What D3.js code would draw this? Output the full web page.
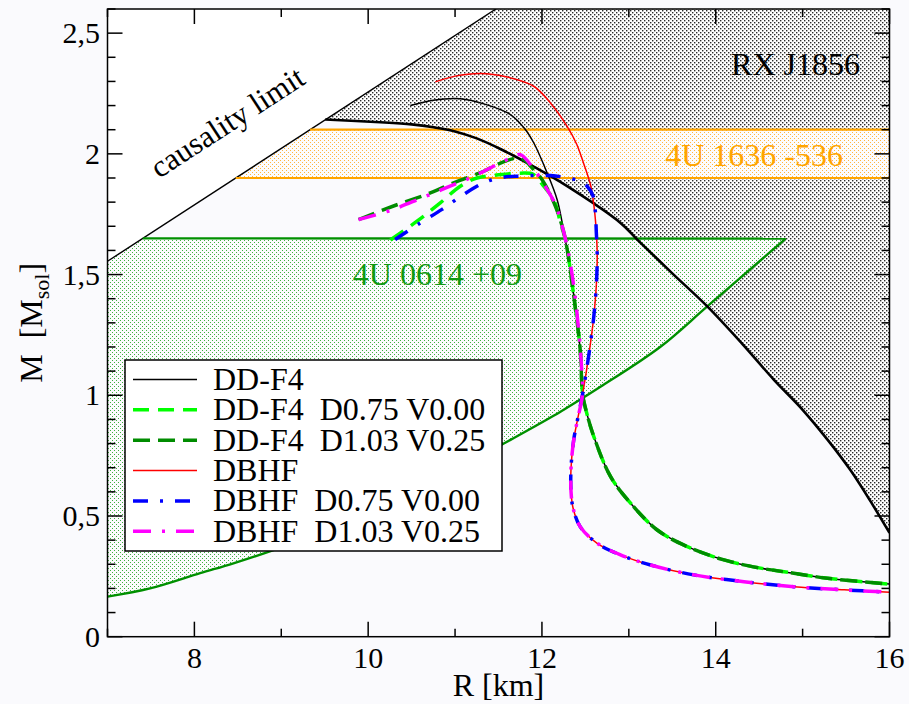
<!DOCTYPE html>
<html><head><meta charset="utf-8">
<script src="https://cdn.jsdelivr.net/npm/d3@7"></script>
<style>
html,body{margin:0;padding:0;background:#fafafd;}
svg{display:block;font-family:"Liberation Serif","Times New Roman",serif;}
text{white-space:pre;}
</style></head><body>
<svg id="c" width="909" height="704"></svg>
<script>
// ---------- data ----------
const xTicks = [8, 10, 12, 14, 16];
const xTickLabels = ["8", "10", "12", "14", "16"];
const yTicks = [0, 0.5, 1, 1.5, 2, 2.5];
const yTickLabels = ["0", "0,5", "1", "1,5", "2", "2,5"];

const causalityLine = [[7, 1.555], [11.47, 2.6]];
const band1636 = [1.9, 2.1];            // 4U 1636-536 mass band
const top0614 = 1.65;                   // 4U 0614+09 upper mass
const lower0614 = [[7, 0.166], [7.49, 0.2], [8.066, 0.263], [8.449, 0.304], [8.91, 0.359], [9.793, 0.476], [10.715, 0.63],
  [11.556, 0.799], [12.213, 0.932], [12.673, 1.035], [13.364, 1.201], [13.903, 1.368], [14.805, 1.649]];
const rxJ1856 = [[9.506, 2.142], [10.139, 2.131], [10.5, 2.122], [10.753, 2.11], [11.0, 2.093], [11.25, 2.064], [11.522, 2.02],
  [11.905, 1.947], [12.29, 1.866], [12.904, 1.714], [13.097, 1.645], [13.5, 1.505], [13.903, 1.368], [14.3, 1.215],
  [14.67, 1.064], [15.0, 0.94], [15.3, 0.81], [15.554, 0.688], [15.8, 0.55], [16.0, 0.43]];

const ddf4 = [[10.485, 2.2], [10.75, 2.222], [11.06, 2.228], [11.35, 2.205], [11.637, 2.163], [11.8, 2.105], [11.905, 2.046],
  [12.06, 1.921], [12.175, 1.81], [12.233, 1.714], [12.32, 1.534], [12.385, 1.36], [12.44, 1.19], [12.47, 1.0], [12.52, 0.92],
  [12.597, 0.829], [12.79, 0.663], [13.02, 0.553], [13.327, 0.442], [13.673, 0.373], [14.095, 0.318], [14.517, 0.284],
  [14.9, 0.263], [15.286, 0.242], [16.0, 0.218]];
const ddf4D075 = [[10.255, 1.643], [10.562, 1.721], [10.83, 1.797], [11.06, 1.866], [11.253, 1.9], [11.5, 1.913], [11.75, 1.92],
  [11.9, 1.915], [12.02, 1.866], [12.136, 1.81], [12.213, 1.714], [12.29, 1.617], [12.32, 1.534], [12.385, 1.36], [12.44, 1.19],
  [12.47, 1.0], [12.52, 0.92], [12.597, 0.829], [12.79, 0.663], [13.02, 0.553], [13.327, 0.442], [13.673, 0.373],
  [14.095, 0.318], [14.517, 0.284], [14.9, 0.263], [15.286, 0.242], [16.0, 0.218]];
const ddf4D103 = [[9.889, 1.728], [10.3, 1.785], [10.715, 1.838], [10.984, 1.88], [11.33, 1.928], [11.484, 1.956],
  [11.714, 1.983], [11.8, 1.975], [11.867, 1.949], [12.002, 1.893], [12.155, 1.783], [12.233, 1.7], [12.27, 1.645],
  [12.32, 1.534], [12.385, 1.36], [12.44, 1.19], [12.47, 1.0], [12.52, 0.92], [12.597, 0.829], [12.79, 0.663], [13.02, 0.553],
  [13.327, 0.442], [13.673, 0.373], [14.095, 0.318], [14.517, 0.284], [14.9, 0.263], [15.286, 0.242], [16.0, 0.218]];
const dbhf = [[10.773, 2.298], [11.0, 2.322], [11.291, 2.333], [11.6, 2.318], [11.905, 2.28], [12.1, 2.21], [12.29, 2.114],
  [12.4, 2.04], [12.48, 1.96], [12.56, 1.87], [12.6, 1.78], [12.625, 1.68], [12.636, 1.58], [12.625, 1.45], [12.597, 1.327],
  [12.56, 1.22], [12.52, 1.12], [12.465, 1.0], [12.41, 0.9], [12.366, 0.816], [12.335, 0.7], [12.335, 0.6], [12.36, 0.53],
  [12.44, 0.456], [12.636, 0.387], [12.904, 0.339], [13.25, 0.297], [13.749, 0.256], [14.325, 0.228], [14.9, 0.207],
  [15.477, 0.194], [16.0, 0.184]];
const dbhfD075 = [[10.31, 1.645], [10.6, 1.714], [10.85, 1.77], [11.05, 1.82], [11.3, 1.875], [11.5, 1.9], [11.75, 1.908],
  [12.1, 1.91], [12.3, 1.9], [12.44, 1.886], [12.52, 1.866], [12.59, 1.824], [12.615, 1.76], [12.625, 1.68], [12.636, 1.58],
  [12.625, 1.45], [12.597, 1.327], [12.56, 1.22], [12.52, 1.12], [12.465, 1.0], [12.41, 0.9], [12.366, 0.816], [12.335, 0.7],
  [12.335, 0.6], [12.36, 0.53], [12.44, 0.456], [12.636, 0.387], [12.904, 0.339], [13.25, 0.297], [13.749, 0.256],
  [14.325, 0.228], [14.9, 0.207], [15.477, 0.194], [16.0, 0.184]];
const dbhfD103 = [[9.889, 1.728], [10.25, 1.765], [10.6, 1.815], [10.9, 1.86], [11.2, 1.905], [11.484, 1.956], [11.65, 1.985],
  [11.752, 1.997], [11.9, 1.94], [12.06, 1.852], [12.155, 1.79], [12.233, 1.7], [12.31, 1.58], [12.37, 1.44], [12.42, 1.28],
  [12.455, 1.12], [12.465, 1.0], [12.41, 0.9], [12.366, 0.816], [12.335, 0.7], [12.335, 0.6], [12.36, 0.53], [12.44, 0.456],
  [12.636, 0.387], [12.904, 0.339], [13.25, 0.297], [13.749, 0.256], [14.325, 0.228], [14.9, 0.207], [15.477, 0.194],
  [16.0, 0.184]];

const seriesNames = ["DD-F4", "DD-F4  D0.75 V0.00", "DD-F4  D1.03 V0.25", "DBHF", "DBHF  D0.75 V0.00", "DBHF  D1.03 V0.25"];
const seriesData = [ddf4, ddf4D075, ddf4D103, dbhf, dbhfD075, dbhfD103];
const seriesColors = ["#000000", "#00ff00", "#008c00", "#ff0000", "#0000ff", "#ff00ff"];
const seriesWidths = [1.5, 3.5, 3.5, 1.5, 3.5, 3.5];
const seriesDash = [null, "16,9", "17,8", null, "15,12,3,12", "18,11,3,11"];
const drawOrder = [0, 1, 2, 3, 4, 5];

// ---------- drawing ----------
const svg = d3.select("#c");
const x = d3.scaleLinear().domain([7, 16]).range([107.5, 889.5]);
const y = d3.scaleLinear().domain([0, 2.6]).range([636.7, 9]);
const defs = svg.append("defs");
defs.append("clipPath").attr("id", "clip").append("rect")
  .attr("x", x(7)).attr("y", y(2.6)).attr("width", x(16) - x(7)).attr("height", y(0) - y(2.6));

function dots(id, color, bg, size) {
  const p = defs.append("pattern").attr("id", id).attr("patternUnits", "userSpaceOnUse")
    .attr("width", 4).attr("height", 4);
  if (bg) p.append("rect").attr("width", 4).attr("height", 4).attr("fill", bg);
  p.append("rect").attr("x", 0).attr("y", 0).attr("width", size).attr("height", size).attr("fill", color);
  p.append("rect").attr("x", 2).attr("y", 2).attr("width", size).attr("height", size).attr("fill", color);
}
dots("greyDots", "#2a2a2a", "#ffffff", 1.4);
dots("orangeDots", "#ffb640", "#fcfcfe", 1.0);
dots("greenDots", "#40b040", "#fcfcfe", 1.0);

const causR = m => causalityLine[0][0] + (m - causalityLine[0][1]) *
  (causalityLine[1][0] - causalityLine[0][0]) / (causalityLine[1][1] - causalityLine[0][1]);
const causM = r => causalityLine[0][1] + (r - causalityLine[0][0]) *
  (causalityLine[1][1] - causalityLine[0][1]) / (causalityLine[1][0] - causalityLine[0][0]);

const plot = svg.append("g").attr("clip-path", "url(#clip)");
const lin = d3.line().x(d => x(d[0])).y(d => y(d[1]));
const smooth = d3.line().x(d => x(d[0])).y(d => y(d[1])).curve(d3.curveCatmullRom.alpha(0.5));
const P = d => x(d[0]) + "," + y(d[1]);

// causality (white) region
plot.append("path").attr("d", lin([[7, causM(7)], [7, 2.6], [causR(2.6), 2.6]]) + "Z").attr("fill", "#ffffff");
// RX J1856 grey region
plot.append("path")
  .attr("d", smooth(rxJ1856) + "L" + P([16, 2.6]) + "L" + P([causR(2.6), 2.6]) + "Z")
  .attr("fill", "url(#greyDots)");
// 4U 1636-536 band
plot.append("path")
  .attr("d", lin([[causR(band1636[0]), band1636[0]], [16, band1636[0]], [16, band1636[1]], [causR(band1636[1]), band1636[1]]]) + "Z")
  .attr("fill", "url(#orangeDots)");
// 4U 0614+09 region
plot.append("path")
  .attr("d", smooth(lower0614) + "L" + P([causR(top0614), top0614]) + "L" + P([7, causM(7)]) + "Z")
  .attr("fill", "url(#greenDots)");

// region boundary lines
plot.append("path").attr("d", lin([[7, causM(7)], [causR(2.6), 2.6]])).attr("stroke", "#000").attr("stroke-width", 1.4).attr("fill", "none");
band1636.forEach(m => plot.append("path").attr("d", lin([[causR(m), m], [16, m]]))
  .attr("stroke", "#ffa500").attr("stroke-width", 2.2).attr("fill", "none"));
plot.append("path").attr("d", lin([[causR(top0614), top0614], lower0614[lower0614.length - 1]]))
  .attr("stroke", "#009000").attr("stroke-width", 2.4).attr("fill", "none");
plot.append("path").attr("d", smooth(lower0614))
  .attr("stroke", "#009000").attr("stroke-width", 2.4).attr("fill", "none");
plot.append("path").attr("d", smooth(rxJ1856)).attr("stroke", "#000").attr("stroke-width", 2.6).attr("fill", "none");

// model curves
drawOrder.forEach(i => {
  plot.append("path").attr("d", smooth(seriesData[i]))
    .attr("fill", "none").attr("stroke", seriesColors[i]).attr("stroke-width", seriesWidths[i])
    .attr("stroke-dasharray", seriesDash[i]).attr("stroke-linejoin", "round");
});

// annotations
const ang = Math.atan2(y(causalityLine[1][1]) - y(causalityLine[0][1]), x(causalityLine[1][0]) - x(causalityLine[0][0])) * 180 / Math.PI;
svg.append("text").attr("transform", `translate(159,179) rotate(${ang})`).attr("font-size", 31).text("causality limit");
svg.append("text").attr("x", 860).attr("y", 75).attr("text-anchor", "end").attr("font-size", 32).text("RX J1856");
svg.append("text").attr("x", 843).attr("y", 166).attr("text-anchor", "end").attr("font-size", 32).attr("fill", "#ffa500").text("4U 1636 -536");
svg.append("text").attr("x", 522).attr("y", 285).attr("text-anchor", "end").attr("font-size", 32).attr("fill", "#119911").text("4U 0614 +09");

// legend
const lg = svg.append("g");
lg.append("rect").attr("x", 125).attr("y", 360).attr("width", 377).attr("height", 191)
  .attr("fill", "#ffffff").attr("stroke", "#000").attr("stroke-width", 1.5);
seriesNames.forEach((name, i) => {
  const by = 390 + i * 30.35;
  lg.append("line").attr("x1", 133).attr("x2", 197).attr("y1", by - 10.5).attr("y2", by - 10.5)
    .attr("stroke", seriesColors[i]).attr("stroke-width", seriesWidths[i]).attr("stroke-dasharray", seriesDash[i]);
  lg.append("text").attr("x", 213).attr("y", by).attr("font-size", 32).attr("xml:space", "preserve").text(name);
});

// frame & ticks
const fr = svg.append("g").attr("stroke", "#000").attr("stroke-width", 1.5).attr("fill", "none");
fr.append("rect").attr("x", x(7)).attr("y", y(2.6)).attr("width", x(16) - x(7)).attr("height", y(0) - y(2.6));
d3.range(7, 16.001, 1).forEach(v => {
  const L = (Math.round(v) % 2 === 0) ? 15 : 8;
  fr.append("line").attr("x1", x(v)).attr("x2", x(v)).attr("y1", y(0)).attr("y2", y(0) - L);
  fr.append("line").attr("x1", x(v)).attr("x2", x(v)).attr("y1", y(2.6)).attr("y2", y(2.6) + L);
});
d3.range(0, 26.001, 1).forEach(k => {
  const v = k / 10;
  const L = (k % 5 === 0) ? 15 : 8;
  fr.append("line").attr("x1", x(7)).attr("x2", x(7) + L).attr("y1", y(v)).attr("y2", y(v));
  fr.append("line").attr("x1", x(16)).attr("x2", x(16) - L).attr("y1", y(v)).attr("y2", y(v));
});
xTicks.forEach((v, i) => svg.append("text").attr("x", x(v)).attr("y", 668).attr("text-anchor", "middle")
  .attr("font-size", 30).text(xTickLabels[i]));
yTicks.forEach((v, i) => svg.append("text").attr("x", 100).attr("y", y(v) + 10).attr("text-anchor", "end")
  .attr("font-size", 30).text(yTickLabels[i]));

// axis titles
svg.append("text").attr("x", (x(7) + x(16)) / 2).attr("y", 696).attr("text-anchor", "middle").attr("font-size", 32).text("R [km]");
const yt = svg.append("text").attr("transform", `translate(42,${(y(0) + y(2.6)) / 2}) rotate(-90)`)
  .attr("text-anchor", "middle").attr("font-size", 32).attr("xml:space", "preserve");
yt.append("tspan").text("M  [M");
yt.append("tspan").attr("font-size", 22).attr("dy", 7).text("sol");
yt.append("tspan").attr("dy", -7).text("]");
</script>
</body></html>
